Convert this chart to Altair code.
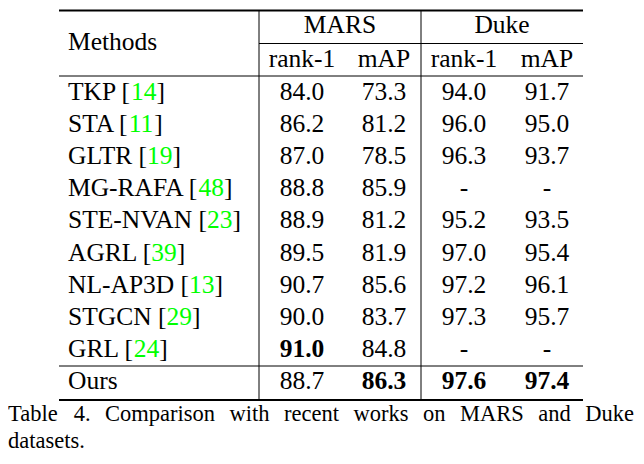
import altair as alt
import pandas as pd

# ---------------- data ----------------
methods = ["TKP", "STA", "GLTR", "MG-RAFA", "STE-NVAN", "AGRL", "NL-AP3D", "STGCN", "GRL", "Ours"]
refs = ["14", "11", "19", "48", "23", "39", "13", "29", "24", ""]
mars_rank1 = [84.0, 86.2, 87.0, 88.8, 88.9, 89.5, 90.7, 90.0, 91.0, 88.7]
mars_map = [73.3, 81.2, 78.5, 85.9, 81.2, 81.9, 85.6, 83.7, 84.8, 86.3]
duke_rank1 = [94.0, 96.0, 96.3, None, 95.2, 97.0, 97.2, 97.3, None, 97.6]
duke_map = [91.7, 95.0, 93.7, None, 93.5, 95.4, 96.1, 95.7, None, 97.4]
groups = ["MARS", "Duke"]
metrics = ["rank-1", "mAP", "rank-1", "mAP"]
caption_line1 = "Table 4. Comparison with recent works on MARS and Duke"
caption_line2 = "datasets."

# ---------------- layout ----------------
FONT = "'Liberation Serif', 'Times New Roman', Times, serif"
FS = 25.5
CAP_FS = 22.5
LEFT, RIGHT = 59, 583
VL1, VL2 = 259, 421
COLS = [302, 384, 464, 547]
METHOD_X = 68
ROW0, STEP = 100, 32.1
OURS_BASE = 389

# Times / Liberation Serif advance widths (per 1000 em)
W = {" ": 250, "[": 333, "]": 333, "-": 333, ".": 250,
     "A": 722, "C": 667, "D": 722, "E": 611, "F": 556, "G": 722, "K": 722, "L": 611,
     "M": 889, "N": 722, "O": 722, "P": 556, "R": 667, "S": 556, "T": 611, "V": 722,
     "a": 444, "b": 500, "c": 444, "d": 500, "e": 444, "h": 500, "i": 278, "k": 500,
     "l": 278, "m": 778, "n": 500, "o": 500, "p": 500, "r": 333, "s": 389, "t": 278,
     "u": 500, "w": 722}
KERN = {"AT": -111, "AV": -135, "AG": -40, "AC": -40, "FA": -74, "LT": -92, "LV": -100,
        "PA": -92, "RT": -60, "RV": -80, "TA": -93, "VA": -135, "NA": -35, "DA": -40}


def tw(s, fs):
    w = sum(W.get(ch, 500) for ch in s)
    w += sum(KERN.get(s[i:i + 2], 0) for i in range(len(s) - 1))
    return w * fs / 1000.0


texts = []


def add(x, y, t, align="left", color="black", weight="normal", size=FS):
    texts.append(dict(x=x, y=y, text=t, al=align, color=color, wt=weight, fs=size))


# header
add(METHOD_X, 50, "Methods")
add((VL1 + VL2) / 2, 33, groups[0], "center")
add((VL2 + RIGHT) / 2, 33, groups[1], "center")
for cx, m in zip(COLS, metrics):
    add(cx, 67, m, "center")

# rows
cols = [mars_rank1, mars_map, duke_rank1, duke_map]
best = [max(v for v in c if v is not None) for c in cols]
for i, name in enumerate(methods):
    yb = OURS_BASE if name == "Ours" else ROW0 + i * STEP
    if refs[i]:
        pre = name + " ["
        add(METHOD_X, yb, pre)
        xn = METHOD_X + tw(pre, FS)
        add(xn, yb, refs[i], color="#00ff00")
        add(xn + tw(refs[i], FS), yb, "]")
    else:
        add(METHOD_X, yb, name)
    for cx, c, b in zip(COLS, cols, best):
        v = c[i]
        if v is None:
            add(cx, yb, "-", "center")
        else:
            add(cx, yb, f"{v:.1f}", "center", weight="bold" if v == b else "normal")

# caption (justified first line)
words = caption_line1.split(" ")
cap_l, cap_r = 8, 634
total = sum(tw(w, CAP_FS) for w in words)
gap = (cap_r - cap_l - total) / (len(words) - 1)
x = cap_l
for w in words:
    add(x, 421, w, size=CAP_FS)
    x += tw(w, CAP_FS) + gap
add(cap_l, 448, caption_line2, size=CAP_FS)

tdf = pd.DataFrame(texts)

rules = pd.DataFrame([
    dict(x=LEFT, x2=RIGHT, y=10.5, y2=10.5, w=2.2),
    dict(x=VL1, x2=RIGHT, y=43.5, y2=43.5, w=1),
    dict(x=LEFT, x2=RIGHT, y=76, y2=76, w=1),
    dict(x=LEFT, x2=RIGHT, y=366, y2=366, w=1),
    dict(x=LEFT, x2=RIGHT, y=400, y2=400, w=2.2),
    dict(x=VL1, x2=VL1, y=10.5, y2=400, w=1),
    dict(x=VL2, x2=VL2, y=10.5, y2=400, w=1),
])

xs = alt.Scale(domain=[8, 636])
ys = alt.Scale(domain=[8, 456], reverse=True)

rule_layer = alt.Chart(rules).mark_rule(color="black").encode(
    x=alt.X("x:Q", scale=xs, axis=None),
    x2="x2:Q",
    y=alt.Y("y:Q", scale=ys, axis=None),
    y2="y2:Q",
    strokeWidth=alt.StrokeWidth("w:Q", scale=None, legend=None),
)

layers = [rule_layer]
for align in ["left", "center"]:
    for weight in ["normal", "bold"]:
        for size in [FS, CAP_FS]:
            sub = tdf[(tdf["al"] == align) & (tdf["wt"] == weight) & (tdf["fs"] == size)]
            if len(sub) == 0:
                continue
            layers.append(
                alt.Chart(sub).mark_text(
                    align=align, baseline="alphabetic", font=FONT,
                    fontSize=size, fontWeight=weight,
                ).encode(
                    x=alt.X("x:Q", scale=xs, axis=None),
                    y=alt.Y("y:Q", scale=ys, axis=None),
                    text="text:N",
                    color=alt.Color("color:N", scale=None, legend=None),
                )
            )

chart = alt.layer(*layers).properties(
    width=628, height=448, padding=0, autosize=alt.AutoSizeParams(type="none"),
    background="white",
).configure_view(stroke=None)

chart.save("out.html", embed_options={"renderer": "svg", "actions": False})
